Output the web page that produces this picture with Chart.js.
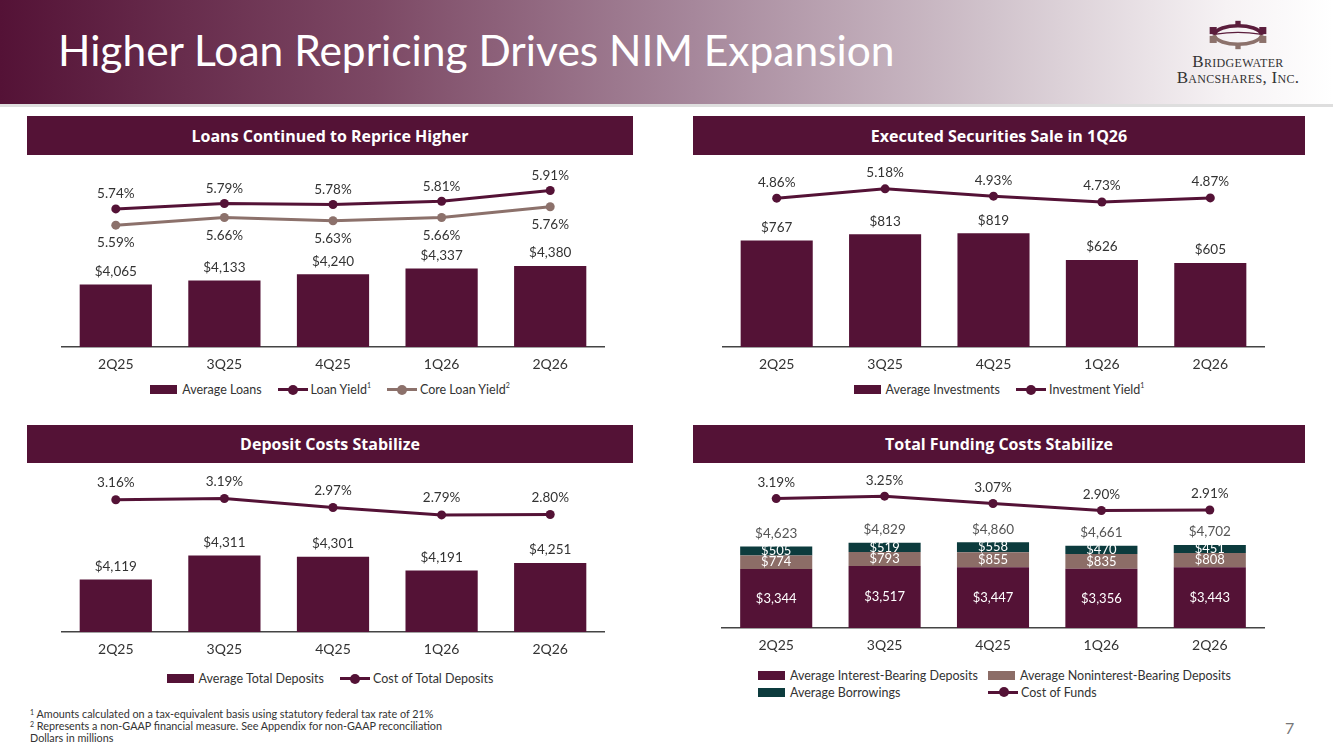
<!DOCTYPE html>
<html>
<head>
<meta charset="utf-8">
<script src="https://cdn.jsdelivr.net/npm/chart.js@4.4.1/dist/chart.umd.min.js"></script>
<style>
  body { margin: 0; width: 1333px; height: 749px; position: relative; overflow: hidden; background: #fff; font-family: Lato, sans-serif; color: #333; }
  .header { position: absolute; left: 0; top: 0; width: 1333px; height: 104px;
    background: linear-gradient(to right, #541236 0%, #7c4864 28%, #a6879b 52%, #d0c2cb 74%, #f6f2f4 92%, #ffffff 100%);
    border-bottom: 3px solid #dedede; }
  .title { position: absolute; left: 58px; top: 25px; font-size: 42.5px; line-height: 50px; color: #fff; white-space: nowrap; }
  .logo { position: absolute; left: 1170px; top: 18px; width: 136px; text-align: center; font-family: "Liberation Serif", serif; color: #333; }
  .logo svg { display: block; margin: 0 auto 2px auto; }
  .logo .name { font-variant: small-caps; font-size: 17px; line-height: 16px; letter-spacing: 0.3px; }
  .sec { position: absolute; background: #541236; color: #fff; font-family: "Open Sans", sans-serif; font-weight: bold; font-size: 16px; display: flex; align-items: center; justify-content: center; }
  .wrap { position: absolute; }
  .legend { position: absolute; display: flex; justify-content: center; font-size: 12.5px; color: #333; white-space: nowrap; }
  .item { display: flex; align-items: center; margin: 0 8px; }
  .box { display: inline-block; width: 27px; height: 9px; margin-right: 5px; }
  .ln { display: inline-block; width: 30px; height: 3px; position: relative; margin-right: 3px; }
  .ln::after { content: ''; position: absolute; left: 10.5px; top: -3.5px; width: 10px; height: 10px; border-radius: 50%; background: inherit; }
  .grid4 { position: absolute; left: 758px; top: 667px; font-size: 12.5px; display: grid; grid-template-columns: 230px 260px; row-gap: 1px; }
  .grid4 .item { margin: 0; height: 16px; }
  sup { font-size: 7px; line-height: 0; vertical-align: baseline; position: relative; top: -5px; }
  .notes { position: absolute; left: 30px; top: 708px; font-size: 10.8px; line-height: 12px; color: #333; }
  .notes sup { top: -3px; }
  .page { position: absolute; left: 1285px; top: 718px; font-size: 16px; color: #777; }
</style>
</head>
<body>
<div class="header"></div>
<div class="title">Higher Loan Repricing Drives NIM Expansion</div>
<div class="logo">
  <svg width="62" height="34" viewBox="0 0 70 38">
    <path d="M8 19 C 12 5, 58 5, 62 19" fill="none" stroke="#5b1d3c" stroke-width="4"/>
    <path d="M8 19 C 12 33, 58 33, 62 19" fill="none" stroke="#8c716b" stroke-width="4"/>
    <path d="M10 18 Q 35 14 60 18" fill="none" stroke="#5b1d3c" stroke-width="1.5"/>
    <rect x="3" y="10" width="8" height="8" fill="#5b1d3c"/>
    <rect x="59" y="10" width="8" height="8" fill="#5b1d3c"/>
    <rect x="3" y="20" width="8" height="8" fill="#8c716b"/>
    <rect x="59" y="20" width="8" height="8" fill="#8c716b"/>
    <rect x="32" y="3" width="6" height="5" fill="#5b1d3c"/>
    <rect x="32" y="30" width="6" height="5" fill="#8c716b"/>
  </svg>
  <div class="name">Bridgewater</div>
  <div class="name">Bancshares, Inc.</div>
</div>

<div class="sec" style="left:27px;top:116px;width:606px;height:39px">Loans Continued to Reprice Higher</div>
<div class="sec" style="left:693px;top:116px;width:612px;height:39px">Executed Securities Sale in 1Q26</div>
<div class="sec" style="left:27px;top:425px;width:606px;height:38px">Deposit Costs Stabilize</div>
<div class="sec" style="left:693px;top:425px;width:612px;height:38px">Total Funding Costs Stabilize</div>

<div class="wrap" style="left:27px;top:159px"><canvas id="loans" width="606" height="218"></canvas></div>
<div class="wrap" style="left:693px;top:160px"><canvas id="invest" width="612" height="217"></canvas></div>
<div class="wrap" style="left:27px;top:470px"><canvas id="deposits" width="606" height="192"></canvas></div>
<div class="wrap" style="left:693px;top:470px"><canvas id="funding" width="612" height="188"></canvas></div>

<div class="legend" style="left:27px;top:382px;width:606px">
  <span class="item"><i class="box" style="background:#541236"></i>Average Loans</span>
  <span class="item"><i class="ln" style="background:#541236"></i>Loan Yield<sup>1</sup></span>
  <span class="item"><i class="ln" style="background:#8c716b"></i>Core Loan Yield<sup>2</sup></span>
</div>
<div class="legend" style="left:693px;top:382px;width:612px">
  <span class="item"><i class="box" style="background:#541236"></i>Average Investments</span>
  <span class="item"><i class="ln" style="background:#541236"></i>Investment Yield<sup>1</sup></span>
</div>
<div class="legend" style="left:27px;top:671px;width:606px">
  <span class="item"><i class="box" style="background:#541236"></i>Average Total Deposits</span>
  <span class="item"><i class="ln" style="background:#541236"></i>Cost of Total Deposits</span>
</div>
<div class="grid4">
  <span class="item"><i class="box" style="background:#541236"></i>Average Interest-Bearing Deposits</span>
  <span class="item"><i class="box" style="background:#8c6d67"></i>Average Noninterest-Bearing Deposits</span>
  <span class="item"><i class="box" style="background:#0c3b3d"></i>Average Borrowings</span>
  <span class="item"><i class="ln" style="background:#541236"></i>Cost of Funds</span>
</div>

<div class="notes"><sup>1</sup> Amounts calculated on a tax-equivalent basis using statutory federal tax rate of 21%<br><sup>2</sup> Represents a non-GAAP financial measure. See Appendix for non-GAAP reconciliation<br>Dollars in millions</div>
<div class="page">7</div>

<script>
// data, dollars in millions / percent
const quarters = ['2Q25', '3Q25', '4Q25', '1Q26', '2Q26'];
const avgLoans = [4065, 4133, 4240, 4337, 4380];
const loanYield = [5.74, 5.79, 5.78, 5.81, 5.91];
const coreLoanYield = [5.59, 5.66, 5.63, 5.66, 5.76];
const avgInvestments = [767, 813, 819, 626, 605];
const investmentYield = [4.86, 5.18, 4.93, 4.73, 4.87];
const avgDeposits = [4119, 4311, 4301, 4191, 4251];
const depositCost = [3.16, 3.19, 2.97, 2.79, 2.80];
const interestBearing = [3344, 3517, 3447, 3356, 3443];
const nonInterestBearing = [774, 793, 855, 835, 808];
const borrowings = [505, 519, 558, 470, 451];
const costOfFunds = [3.19, 3.25, 3.07, 2.90, 2.91];

const MAROON = '#541236';
const TAUPE = '#8c716b';
const TAUPE_BAR = '#8c6d67';
const TEAL = '#0c3b3d';

const money = v => '$' + v.toLocaleString('en-US');
const pct = v => v.toFixed(2) + '%';

// draws value labels next to bars / points
const valueLabels = {
  id: 'valueLabels',
  afterDatasetsDraw(chart, args, opts) {
    const ctx = chart.ctx;
    ctx.save();
    ctx.textAlign = 'center';
    ctx.textBaseline = 'middle';
    chart.data.datasets.forEach((ds, i) => {
      const lab = ds.valueLabel;
      if (!lab) return;
      const meta = chart.getDatasetMeta(i);
      ctx.font = (lab.size || 13.5) + 'px Lato';
      ctx.fillStyle = lab.color || '#333';
      meta.data.forEach((el, j) => {
        const y = lab.pos === 'center' ? (el.y + el.base) / 2 : el.y + lab.dy;
        ctx.fillText(lab.fmt(ds.data[j]), el.x, y);
      });
    });
    if (opts && opts.totals) {
      const t = opts.totals;
      const topMeta = chart.getDatasetMeta(t.datasets[t.datasets.length - 1]);
      ctx.font = '13.5px Lato';
      ctx.fillStyle = t.color;
      topMeta.data.forEach((el, j) => {
        const sum = t.datasets.reduce((a, d) => a + chart.data.datasets[d].data[j], 0);
        ctx.fillText(money(sum), el.x, el.y + t.dy);
      });
    }
    ctx.restore();
  }
};

function xAxis(stacked) {
  return {
    stacked: stacked,
    offset: true,
    grid: { display: false, drawTicks: false },
    border: { display: true, color: '#444', width: 1.5 },
    ticks: { color: '#333', font: { family: 'Lato', size: 14 }, padding: 9 },
    afterFit(scale) { scale.height = 30; }
  };
}

function baseOptions(pad, y, y2, stacked, extra) {
  return {
    responsive: false,
    animation: false,
    layout: { padding: pad },
    plugins: { legend: { display: false }, tooltip: { enabled: false }, valueLabels: extra || {} },
    scales: {
      x: xAxis(stacked),
      y: Object.assign({ display: false, stacked: stacked }, y),
      y2: Object.assign({ display: false, position: 'right', grid: { display: false } }, y2)
    }
  };
}

function lineSet(label, data, color, dy) {
  return {
    type: 'line', label: label, data: data, yAxisID: 'y2', order: 0,
    borderColor: color, backgroundColor: color, borderWidth: 3,
    pointRadius: 4.5, pointHoverRadius: 4.5, pointBackgroundColor: color, pointBorderWidth: 0,
    tension: 0,
    valueLabel: { fmt: pct, dy: dy }
  };
}

function barSet(label, data, color, valueLabel) {
  return {
    type: 'bar', label: label, data: data, yAxisID: 'y', order: 1,
    backgroundColor: color, borderWidth: 0,
    barPercentage: 0.665, categoryPercentage: 1,
    valueLabel: valueLabel
  };
}

new Chart(document.getElementById('loans'), {
  type: 'bar',
  data: {
    labels: quarters,
    datasets: [
      barSet('Average Loans', avgLoans, MAROON, { fmt: money, dy: -13 }),
      lineSet('Loan Yield', loanYield, MAROON, -15),
      lineSet('Core Loan Yield', coreLoanYield, TAUPE, 18)
    ]
  },
  options: baseOptions({ left: 34.5, right: 28.5, top: 0, bottom: 0 },
    { min: 3004, max: 6121 }, { min: 4.465, max: 6.159 }, false),
  plugins: [valueLabels]
});

new Chart(document.getElementById('invest'), {
  type: 'bar',
  data: {
    labels: quarters,
    datasets: [
      barSet('Average Investments', avgInvestments, MAROON, { fmt: money, dy: -13 }),
      lineSet('Investment Yield', investmentYield, MAROON, -16)
    ]
  },
  options: baseOptions({ left: 29.5, right: 40.5, top: 0, bottom: 0 },
    { min: 0, max: 1315 }, { min: -0.257, max: 6.018 }, false),
  plugins: [valueLabels]
});

new Chart(document.getElementById('deposits'), {
  type: 'bar',
  data: {
    labels: quarters,
    datasets: [
      barSet('Average Total Deposits', avgDeposits, MAROON, { fmt: money, dy: -13 }),
      lineSet('Cost of Total Deposits', depositCost, MAROON, -17)
    ]
  },
  options: baseOptions({ left: 34.5, right: 28.5, top: 0, bottom: 0 },
    { min: 3697, max: 4963 }, { min: -0.078, max: 3.779 }, false),
  plugins: [valueLabels]
});

new Chart(document.getElementById('funding'), {
  type: 'bar',
  data: {
    labels: quarters,
    datasets: [
      barSet('Average Interest-Bearing Deposits', interestBearing, MAROON, { fmt: money, pos: 'center', color: '#fff', size: 13 }),
      barSet('Average Noninterest-Bearing Deposits', nonInterestBearing, TAUPE_BAR, { fmt: money, pos: 'center', color: '#fff', size: 13 }),
      barSet('Average Borrowings', borrowings, TEAL, { fmt: money, pos: 'center', color: '#fff', size: 13 }),
      lineSet('Cost of Funds', costOfFunds, MAROON, -16)
    ]
  },
  options: baseOptions({ left: 29, right: 41, top: 0, bottom: 0 },
    { min: 0, max: 8705 }, { min: 0.019, max: 3.781 }, true,
    { totals: { datasets: [0, 1, 2], dy: -13, color: '#555' } }),
  plugins: [valueLabels]
});
</script>
</body>
</html>
